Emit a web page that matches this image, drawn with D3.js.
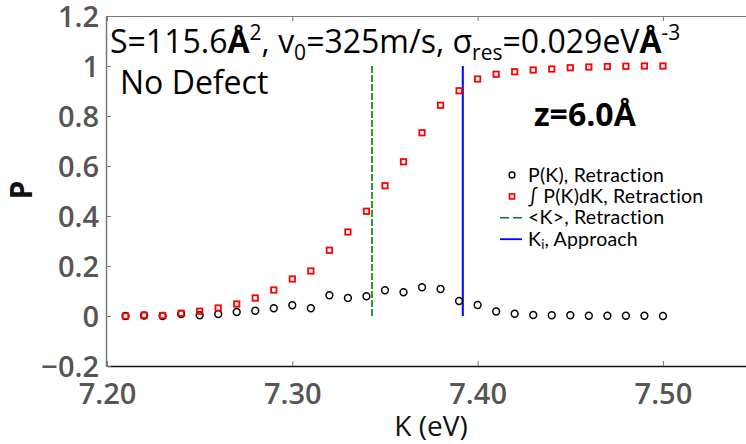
<!DOCTYPE html>
<html><head><meta charset="utf-8">
<script src="https://cdn.jsdelivr.net/npm/d3@7/dist/d3.min.js"></script>
<style>html,body{margin:0;padding:0;background:#fff;overflow:hidden}</style>
</head><body>
<svg id="c" width="746" height="444"></svg>
<script>
const kValues = [7.21,7.22,7.23,7.24,7.25,7.26,7.27,7.28,7.29,7.30,7.31,7.32,7.33,7.34,7.35,7.36,7.37,7.38,7.39,7.40,7.41,7.42,7.43,7.44,7.45,7.46,7.47,7.48,7.49,7.50];
const pK = [0.000,0.002,0.000,0.008,0.003,0.008,0.016,0.021,0.031,0.043,0.031,0.083,0.072,0.079,0.103,0.095,0.115,0.108,0.060,0.044,0.018,0.009,0.004,0.003,0.003,0.001,0.001,0.001,0.001,0.000];
const cumP = [0.000,0.003,0.002,0.011,0.019,0.032,0.048,0.072,0.104,0.148,0.180,0.263,0.336,0.419,0.521,0.617,0.733,0.843,0.901,0.948,0.967,0.977,0.984,0.988,0.993,0.996,0.998,0.999,1.000,1.000];
const meanK = 7.343;
const kiApproach = 7.392;
const xTicks = [7.20,7.30,7.40,7.50];
const yTicks = [-0.2,0,0.2,0.4,0.6,0.8,1.0,1.2];
const xDomain = [7.2,7.55];
const yDomain = [-0.2,1.2];

const svg = d3.select("#c");
const FONT = "'Open Sans', 'DejaVu Sans', sans-serif";
const LFONT = "Lato, 'Open Sans', sans-serif";
const x = d3.scaleLinear().domain(xDomain).range([107,755.6]);
const y = d3.scaleLinear().domain(yDomain).range([366,16]);

// axes
const tickColor = "#777";
const xAxis = d3.axisBottom(x).tickValues(xTicks).tickFormat(d3.format(".2f")).tickSizeInner(-5).tickSizeOuter(0).tickPadding(12);
const gx = svg.append("g").attr("transform","translate(0,366)").call(xAxis);
gx.select(".domain").attr("stroke","#111").attr("stroke-width",1.5);
gx.selectAll(".tick line").attr("stroke",tickColor);
gx.selectAll(".tick text").attr("font-family",FONT).attr("font-size",29).attr("font-weight",600).attr("fill","#555").attr("dy","0.9em");

const xTop = d3.axisTop(x).tickValues(xTicks).tickFormat("").tickSizeInner(-5).tickSizeOuter(0);
const gt = svg.append("g").attr("transform","translate(0,16)").call(xTop);
gt.select(".domain").attr("stroke",tickColor).attr("stroke-width",1.2);
gt.selectAll(".tick line").attr("stroke",tickColor);

const yAxis = d3.axisLeft(y).tickValues(yTicks).tickFormat(d => d===0?"0":d===1?"1":d3.format(".1f")(d).replace("-","\u2212")).tickSizeInner(-5).tickSizeOuter(0).tickPadding(7);
const gy = svg.append("g").attr("transform","translate(106,0)").call(yAxis);
gy.select(".domain").attr("stroke",tickColor).attr("stroke-width",1.5);
gy.selectAll(".tick line").attr("stroke",tickColor);
gy.selectAll(".tick text").attr("font-family",FONT).attr("font-size",29).attr("font-weight",600).attr("fill","#555").attr("dy","0.35em");

// axis titles
svg.append("text").attr("x",431).attr("y",436).attr("text-anchor","middle").attr("font-family",FONT).attr("font-size",28).attr("font-weight",500).attr("fill","#111").text("K (eV)");
svg.append("text").attr("transform","translate(32,190) rotate(-90)").attr("text-anchor","middle").attr("font-family",FONT).attr("font-size",30).attr("font-weight",700).attr("fill","#111").text("P");

// vertical lines
svg.append("line").attr("x1",x(meanK)).attr("x2",x(meanK)).attr("y1",y(0)).attr("y2",y(1)).attr("stroke","#008000").attr("stroke-width",1.6).attr("stroke-dasharray","7,2");
svg.append("line").attr("x1",x(kiApproach)).attr("x2",x(kiApproach)).attr("y1",y(0)).attr("y2",y(1)).attr("stroke","#0000ff").attr("stroke-width",2);

// markers
svg.append("g").selectAll("circle").data(kValues).join("circle")
  .attr("cx",(d)=>x(d)).attr("cy",(d,i)=>y(pK[i])).attr("r",3.4)
  .attr("fill","none").attr("stroke","#000").attr("stroke-width",1.5);
svg.append("g").selectAll("rect").data(kValues).join("rect")
  .attr("x",(d)=>x(d)-2.7).attr("y",(d,i)=>y(cumP[i])-2.7).attr("width",5.4).attr("height",5.4)
  .attr("fill","none").attr("stroke","#ff0000").attr("stroke-width",1.8);

// title
const t = svg.append("text").attr("x",110).attr("y",53).attr("font-family",FONT).attr("font-size",32).attr("font-weight",500).attr("fill","#000");
t.append("tspan").text("S=115.6");
t.append("tspan").attr("font-weight",700).text("Å");
t.append("tspan").attr("font-size",21).attr("dy",-13).text("2");
t.append("tspan").attr("dy",13).text(", v");
t.append("tspan").attr("font-size",21).attr("dy",7).text("0");
t.append("tspan").attr("dy",-7).text("=325m/s, σ");
t.append("tspan").attr("font-size",21).attr("dy",7).text("res");
t.append("tspan").attr("dy",-7).text("=0.029eV");
t.append("tspan").attr("font-weight",700).text("Å");
t.append("tspan").attr("font-size",21).attr("dy",-13).text("-3");

svg.append("text").attr("x",120).attr("y",94).attr("font-family",FONT).attr("font-size",32).attr("font-weight",500).attr("fill","#000").text("No Defect");
svg.append("text").attr("x",534).attr("y",126).attr("font-family",FONT).attr("font-size",32).attr("font-weight",700).attr("fill","#000").text("z=6.0Å");

// legend
const legItems = [
  {type:"circle", label:"P(K), Retraction"},
  {type:"square", label:"∫ P(K)dK, Retraction"},
  {type:"dash", label:"<K>, Retraction"},
  {type:"solid", label:"K", sub:"i", rest:", Approach"}
];
const lg = svg.append("g");
legItems.forEach((it,i)=>{
  const yy = 175 + i*21.4;
  if(it.type==="circle") lg.append("circle").attr("cx",512).attr("cy",yy).attr("r",3).attr("fill","none").attr("stroke","#000").attr("stroke-width",1.4);
  if(it.type==="square") lg.append("rect").attr("x",509.5).attr("y",yy-2.5).attr("width",5).attr("height",5).attr("fill","none").attr("stroke","#f00").attr("stroke-width",1.7);
  if(it.type==="dash") lg.append("line").attr("x1",500).attr("x2",522).attr("y1",yy).attr("y2",yy).attr("stroke","#008000").attr("stroke-width",1.6).attr("stroke-dasharray","9,4");
  if(it.type==="solid") lg.append("line").attr("x1",500).attr("x2",522).attr("y1",yy).attr("y2",yy).attr("stroke","#0000ff").attr("stroke-width",1.8);
  const tx = lg.append("text").attr("x",528).attr("y",yy+6.5).attr("font-family",LFONT).attr("font-size",19.5).attr("letter-spacing",0.2).attr("fill","#000");
  tx.append("tspan").text(it.label);
  if(it.sub){ tx.append("tspan").attr("font-size",13).attr("dy",3).text(it.sub); tx.append("tspan").attr("dy",-3).text(it.rest); }
});
</script>
</body></html>
